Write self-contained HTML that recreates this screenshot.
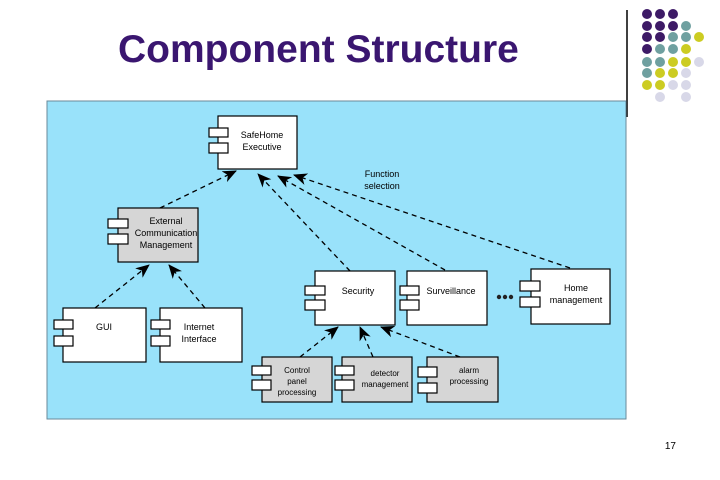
<!DOCTYPE html>
<html><head><meta charset="utf-8"><style>
body{margin:0;width:720px;height:480px;background:#fff;position:relative;overflow:hidden;font-family:"Liberation Sans",sans-serif}
.t{position:absolute;left:118px;top:28px;font-size:39px;font-weight:bold;color:#3a1670;white-space:nowrap}
.n{position:absolute;right:44px;top:441px;font-size:10px}
</style></head><body>
<div class="t">Component Structure</div>
<svg width="720" height="480" style="position:absolute;left:0;top:0">
<defs><marker id="a" markerWidth="14" markerHeight="12" refX="13" refY="6" orient="auto" markerUnits="userSpaceOnUse"><path d="M0,0 L14,6 L0,12 L4,6z" fill="#000"/></marker></defs>
<line x1="627" y1="10" x2="627" y2="117" stroke="#000" stroke-width="1.5"/>
<g>
<circle cx="647" cy="14" r="5" fill="#3d1a66"/><circle cx="660" cy="14" r="5" fill="#3d1a66"/><circle cx="673" cy="14" r="5" fill="#3d1a66"/>
<circle cx="647" cy="26" r="5" fill="#3d1a66"/><circle cx="660" cy="26" r="5" fill="#3d1a66"/><circle cx="673" cy="26" r="5" fill="#3d1a66"/><circle cx="686" cy="26" r="5" fill="#6fa0a0"/>
<circle cx="647" cy="37" r="5" fill="#3d1a66"/><circle cx="660" cy="37" r="5" fill="#3d1a66"/><circle cx="673" cy="37" r="5" fill="#6fa0a0"/><circle cx="686" cy="37" r="5" fill="#6fa0a0"/><circle cx="699" cy="37" r="5" fill="#cccc22"/>
<circle cx="647" cy="49" r="5" fill="#3d1a66"/><circle cx="660" cy="49" r="5" fill="#6fa0a0"/><circle cx="673" cy="49" r="5" fill="#6fa0a0"/><circle cx="686" cy="49" r="5" fill="#cccc22"/>
<circle cx="647" cy="62" r="5" fill="#6fa0a0"/><circle cx="660" cy="62" r="5" fill="#6fa0a0"/><circle cx="673" cy="62" r="5" fill="#cccc22"/><circle cx="686" cy="62" r="5" fill="#cccc22"/><circle cx="699" cy="62" r="5" fill="#d8d8e8"/>
<circle cx="647" cy="73" r="5" fill="#6fa0a0"/><circle cx="660" cy="73" r="5" fill="#cccc22"/><circle cx="673" cy="73" r="5" fill="#cccc22"/><circle cx="686" cy="73" r="5" fill="#d8d8e8"/>
<circle cx="647" cy="85" r="5" fill="#cccc22"/><circle cx="660" cy="85" r="5" fill="#cccc22"/><circle cx="673" cy="85" r="5" fill="#d8d8e8"/><circle cx="686" cy="85" r="5" fill="#d8d8e8"/>
<circle cx="660" cy="97" r="5" fill="#d8d8e8"/><circle cx="686" cy="97" r="5" fill="#d8d8e8"/>
</g>
<rect x="47" y="101" width="579" height="318" fill="#99e2fa" stroke="#6a8a9a" stroke-width="1"/>
<g stroke="#000" stroke-width="1.3" stroke-dasharray="5,4" fill="none" marker-end="url(#a)">
<line x1="160" y1="208" x2="236" y2="171"/>
<line x1="350" y1="271" x2="258" y2="174"/>
<line x1="445" y1="270" x2="278" y2="176"/>
<line x1="570" y1="268" x2="294" y2="175"/>
<line x1="95" y1="308" x2="149" y2="265"/>
<line x1="205" y1="308" x2="169" y2="265"/>
<line x1="300" y1="357" x2="338" y2="327"/>
<line x1="373" y1="357" x2="360" y2="327"/>
<line x1="460" y1="357" x2="381" y2="327"/>
</g>
<g font-size="9" text-anchor="middle" fill="#000">
<text x="382" y="177">Function</text><text x="382" y="189">selection</text>
</g>
<g stroke="#000" stroke-width="1.2">
<rect x="218" y="116" width="79" height="53" fill="#fff"/><rect x="209" y="128" width="19" height="9" fill="#fff"/><rect x="209" y="143" width="19" height="10" fill="#fff"/>
<rect x="118" y="208" width="80" height="54" fill="#d6d6d6"/><rect x="108" y="219" width="20" height="9" fill="#fff"/><rect x="108" y="234" width="20" height="10" fill="#fff"/>
<rect x="63" y="308" width="83" height="54" fill="#fff"/><rect x="54" y="320" width="19" height="9" fill="#fff"/><rect x="54" y="336" width="19" height="10" fill="#fff"/>
<rect x="160" y="308" width="82" height="54" fill="#fff"/><rect x="151" y="320" width="19" height="9" fill="#fff"/><rect x="151" y="336" width="19" height="10" fill="#fff"/>
<rect x="315" y="271" width="80" height="54" fill="#fff"/><rect x="305" y="286" width="20" height="9" fill="#fff"/><rect x="305" y="300" width="20" height="10" fill="#fff"/>
<rect x="407" y="271" width="80" height="54" fill="#fff"/><rect x="400" y="286" width="19" height="9" fill="#fff"/><rect x="400" y="300" width="19" height="10" fill="#fff"/>
<rect x="531" y="269" width="79" height="55" fill="#fff"/><rect x="520" y="281" width="20" height="10" fill="#fff"/><rect x="520" y="297" width="20" height="10" fill="#fff"/>
<rect x="262" y="357" width="70" height="45" fill="#d6d6d6"/><rect x="252" y="366" width="19" height="9" fill="#fff"/><rect x="252" y="380" width="19" height="10" fill="#fff"/>
<rect x="342" y="357" width="70" height="45" fill="#d6d6d6"/><rect x="335" y="366" width="19" height="9" fill="#fff"/><rect x="335" y="380" width="19" height="10" fill="#fff"/>
<rect x="427" y="357" width="71" height="45" fill="#d6d6d6"/><rect x="418" y="367" width="19" height="10" fill="#fff"/><rect x="418" y="383" width="19" height="10" fill="#fff"/>
</g>
<g fill="#222"><circle cx="499" cy="297" r="2.2"/><circle cx="505" cy="297" r="2.2"/><circle cx="511" cy="297" r="2.2"/></g>
<g font-size="9" text-anchor="middle" fill="#000">
<text x="262" y="138">SafeHome</text><text x="262" y="150">Executive</text>
<text x="166" y="224">External</text><text x="166" y="236">Communication</text><text x="166" y="248">Management</text>
<text x="104" y="330">GUI</text>
<text x="199" y="330">Internet</text><text x="199" y="342">Interface</text>
<text x="358" y="294">Security</text>
<text x="451" y="294">Surveillance</text>
<text x="576" y="291">Home</text><text x="576" y="303">management</text>
<text x="297" y="373" font-size="8">Control</text><text x="297" y="384" font-size="8">panel</text><text x="297" y="395" font-size="8">processing</text>
<text x="385" y="376" font-size="8">detector</text><text x="385" y="387" font-size="8">management</text>
<text x="469" y="373" font-size="8">alarm</text><text x="469" y="384" font-size="8">processing</text>
</g>
</svg>
<div class="n">17</div>
</body></html>
